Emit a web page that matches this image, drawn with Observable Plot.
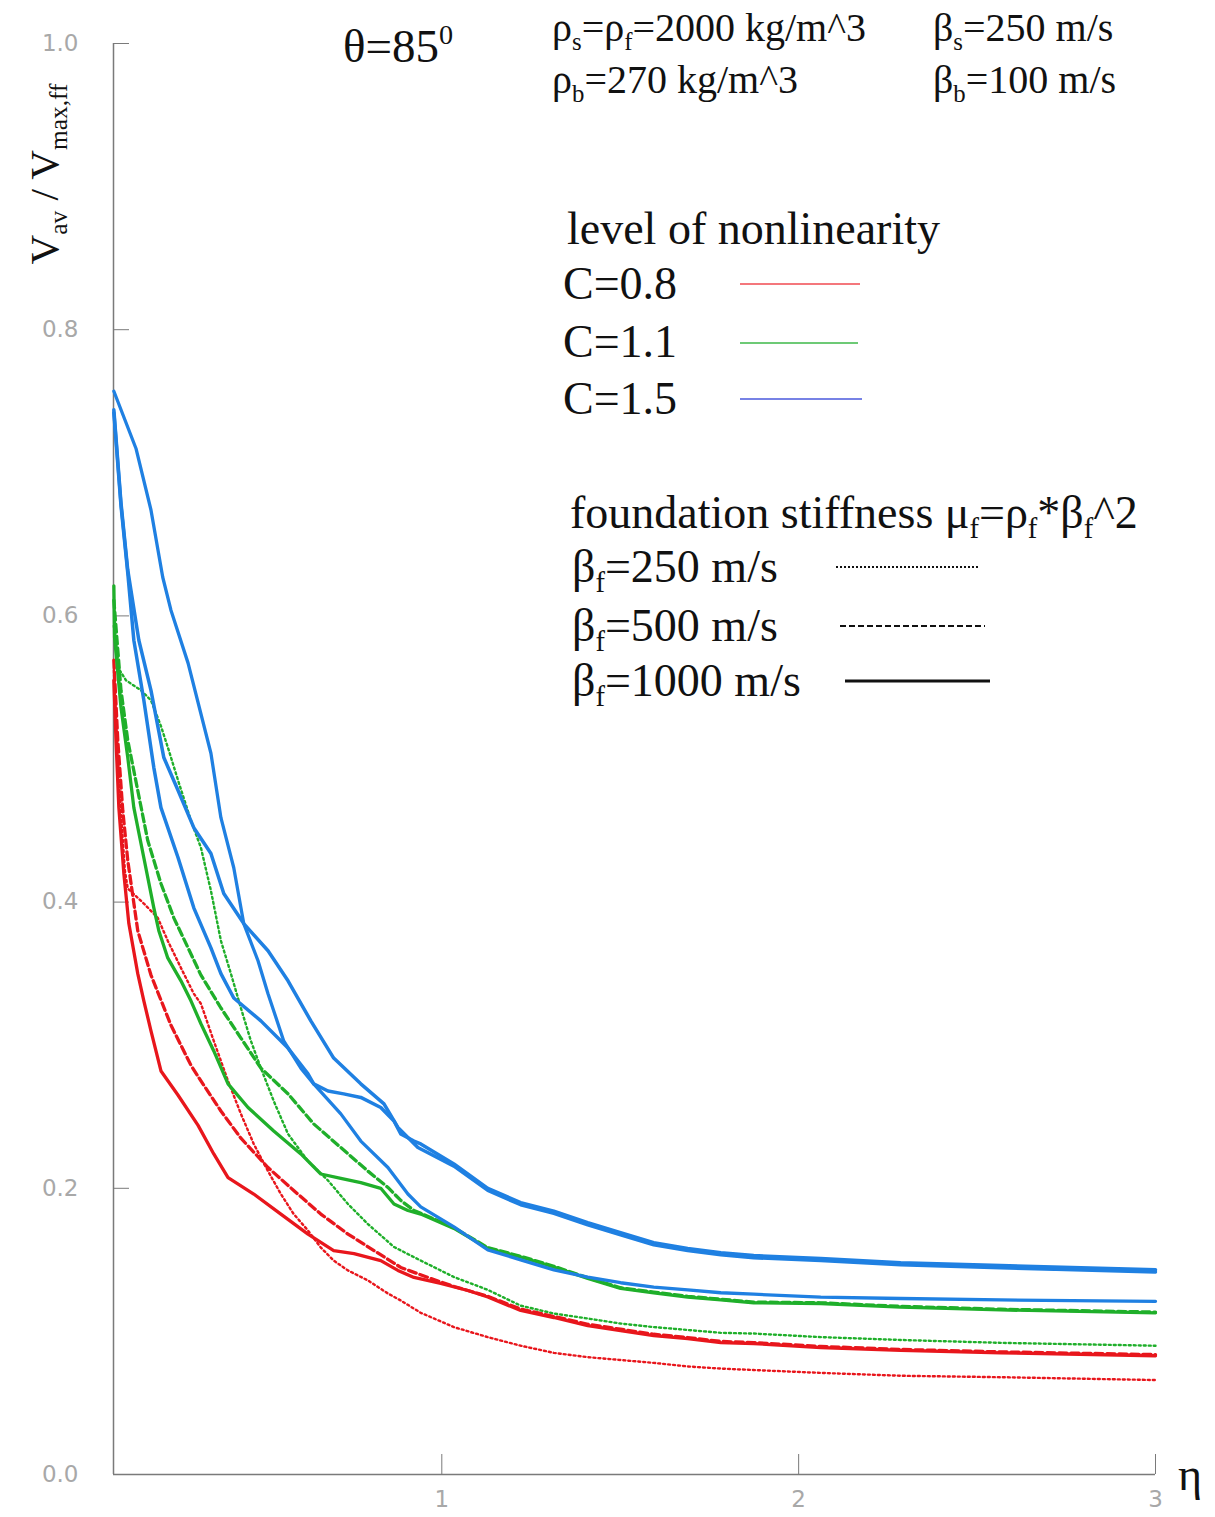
<!DOCTYPE html>
<html>
<head>
<meta charset="utf-8">
<script src="https://cdn.jsdelivr.net/npm/d3@7"></script>
<script src="https://cdn.jsdelivr.net/npm/@observablehq/plot@0.6"></script>
<style>
  html, body { margin: 0; padding: 0; background: #fff; overflow: hidden; }
  #wrap { position: relative; width: 1215px; height: 1517px; }
  #wrap svg.plot { display: block; }
  #overlay { position: absolute; left: 0; top: 0; pointer-events: none; }
</style>
</head>
<body>
<div id="wrap"></div>
<script>
// ---- data (η, V_av / V_max,ff) ----
const xTicks = [1, 2, 3];
const yTicks = [0, 0.2, 0.4, 0.6, 0.8, 1.0];

// C = 0.8 (red)
const red250 = [[0.081,0.562],[0.095,0.485],[0.112,0.422],[0.120,0.4095],[0.165,0.399],[0.204,0.389],[0.232,0.373],[0.269,0.354],[0.305,0.336],[0.325,0.329],[0.361,0.303],[0.401,0.275],[0.437,0.252],[0.473,0.231],[0.513,0.212],[0.549,0.196],[0.585,0.182],[0.625,0.1705],[0.661,0.1586],[0.697,0.1495],[0.737,0.1426],[0.793,0.1356],[0.849,0.1265],[0.885,0.1216],[0.941,0.113],[1.034,0.103],[1.129,0.096],[1.221,0.090],[1.314,0.085],[1.409,0.082],[1.501,0.080],[1.594,0.078],[1.689,0.0755],[1.782,0.074],[1.874,0.073],[2.062,0.071],[2.286,0.069],[2.566,0.068],[3.0,0.066]];
const red500 = [[0.081,0.569],[0.092,0.513],[0.106,0.464],[0.120,0.429],[0.148,0.380],[0.185,0.349],[0.241,0.314],[0.297,0.286],[0.325,0.275],[0.381,0.254],[0.437,0.235],[0.513,0.2145],[0.585,0.1985],[0.661,0.182],[0.737,0.168],[0.810,0.1565],[0.885,0.1447],[0.961,0.1377],[1.034,0.1314],[1.129,0.1245],[1.221,0.1156],[1.314,0.1105],[1.409,0.105],[1.501,0.1015],[1.594,0.098],[1.689,0.0957],[1.782,0.093],[1.874,0.0922],[2.062,0.0895],[2.286,0.0874],[2.566,0.0857],[3.0,0.0838]];
const red1000 = [[0.081,0.555],[0.087,0.513],[0.095,0.466],[0.109,0.420],[0.123,0.385],[0.148,0.350],[0.165,0.331],[0.185,0.310],[0.213,0.282],[0.261,0.265],[0.317,0.244],[0.361,0.224],[0.401,0.2075],[0.473,0.196],[0.549,0.182],[0.625,0.168],[0.697,0.1565],[0.754,0.1544],[0.829,0.1495],[0.877,0.1426],[0.922,0.1377],[0.997,0.1335],[1.073,0.1286],[1.129,0.124],[1.221,0.1146],[1.314,0.1097],[1.409,0.1041],[1.501,0.1006],[1.594,0.0971],[1.689,0.095],[1.782,0.0922],[1.874,0.0915],[2.062,0.0887],[2.286,0.0867],[2.566,0.085],[3.0,0.083]];

// C = 1.1 (green)
const green250 = [[0.081,0.593],[0.095,0.563],[0.115,0.555],[0.157,0.548],[0.185,0.541],[0.213,0.523],[0.235,0.506],[0.261,0.485],[0.297,0.457],[0.325,0.438],[0.353,0.408],[0.381,0.373],[0.409,0.350],[0.437,0.326],[0.465,0.303],[0.493,0.284],[0.529,0.261],[0.569,0.238],[0.625,0.219],[0.681,0.2055],[0.737,0.189],[0.793,0.175],[0.866,0.159],[0.941,0.1495],[1.034,0.138],[1.129,0.129],[1.221,0.118],[1.314,0.1125],[1.409,0.109],[1.501,0.1055],[1.594,0.103],[1.689,0.101],[1.782,0.099],[1.874,0.0985],[2.062,0.096],[2.286,0.094],[2.566,0.092],[3.0,0.090]];
const green500 = [[0.081,0.611],[0.101,0.548],[0.120,0.513],[0.148,0.478],[0.176,0.443],[0.213,0.413],[0.249,0.389],[0.289,0.368],[0.325,0.349],[0.381,0.326],[0.437,0.305],[0.493,0.284],[0.569,0.266],[0.641,0.245],[0.717,0.2285],[0.793,0.212],[0.849,0.2006],[0.885,0.1915],[0.922,0.1845],[0.941,0.1825],[1.034,0.1725],[1.129,0.1585],[1.221,0.1525],[1.314,0.1455],[1.409,0.1375],[1.501,0.1305],[1.594,0.1275],[1.689,0.1245],[1.782,0.1225],[1.874,0.1205],[2.062,0.12],[2.286,0.1175],[2.566,0.1155],[3.0,0.1135]];
const green1000 = [[0.081,0.621],[0.083,0.585],[0.101,0.536],[0.120,0.501],[0.137,0.466],[0.165,0.431],[0.193,0.396],[0.207,0.380],[0.232,0.361],[0.269,0.345],[0.297,0.331],[0.325,0.315],[0.361,0.296],[0.401,0.273],[0.457,0.2565],[0.529,0.240],[0.605,0.224],[0.661,0.210],[0.717,0.207],[0.773,0.204],[0.829,0.200],[0.866,0.189],[0.905,0.1845],[0.941,0.182],[1.034,0.172],[1.129,0.158],[1.221,0.152],[1.314,0.145],[1.409,0.137],[1.501,0.130],[1.594,0.127],[1.689,0.124],[1.782,0.122],[1.874,0.120],[2.062,0.1195],[2.286,0.117],[2.566,0.115],[3.0,0.113]];

// C = 1.5 (blue) – all three drawn solid in the original
const blue250 = [[0.081,0.757],[0.143,0.717],[0.185,0.674],[0.218,0.627],[0.241,0.604],[0.289,0.567],[0.353,0.504],[0.381,0.459],[0.417,0.424],[0.445,0.385],[0.485,0.359],[0.513,0.336],[0.557,0.303],[0.605,0.284],[0.641,0.273],[0.717,0.252],[0.773,0.233],[0.849,0.2145],[0.905,0.196],[0.941,0.187],[1.034,0.173],[1.129,0.157],[1.221,0.150],[1.314,0.143],[1.409,0.138],[1.501,0.134],[1.594,0.131],[1.689,0.129],[1.782,0.127],[1.874,0.126],[2.062,0.124],[2.286,0.123],[2.566,0.122],[3.0,0.121]];
const blue500 = [[0.081,0.744],[0.101,0.679],[0.120,0.632],[0.151,0.583],[0.185,0.548],[0.221,0.501],[0.261,0.478],[0.305,0.452],[0.353,0.434],[0.389,0.406],[0.445,0.385],[0.513,0.366],[0.569,0.345],[0.633,0.317],[0.697,0.291],[0.773,0.273],[0.838,0.259],[0.877,0.2425],[0.933,0.2285],[0.941,0.2275],[1.034,0.2155],[1.129,0.1985],[1.221,0.1885],[1.314,0.1825],[1.409,0.1745],[1.501,0.1675],[1.594,0.1605],[1.689,0.1565],[1.782,0.1535],[1.874,0.1515],[2.062,0.1495],[2.286,0.1465],[2.566,0.1445],[3.0,0.1415]];
const blue1000 = [[0.081,0.742],[0.101,0.677],[0.120,0.630],[0.137,0.583],[0.165,0.541],[0.193,0.494],[0.213,0.466],[0.261,0.431],[0.305,0.396],[0.353,0.368],[0.381,0.350],[0.417,0.333],[0.493,0.317],[0.569,0.298],[0.625,0.280],[0.641,0.273],[0.681,0.268],[0.725,0.266],[0.773,0.2635],[0.829,0.2565],[0.866,0.247],[0.885,0.238],[0.922,0.233],[0.941,0.231],[1.034,0.217],[1.129,0.200],[1.221,0.190],[1.314,0.184],[1.409,0.176],[1.501,0.169],[1.594,0.162],[1.689,0.158],[1.782,0.155],[1.874,0.153],[2.062,0.151],[2.286,0.148],[2.566,0.146],[3.0,0.143]];

const RED = "#e8161c", GREEN = "#1faf2a", BLUE = "#1f80e2";
const series = [
  {key: "red250",    data: red250,    stroke: RED,   width: 2.4, dash: "2,3"},
  {key: "red500",    data: red500,    stroke: RED,   width: 3.3, dash: "8,4"},
  {key: "red1000",   data: red1000,   stroke: RED,   width: 3.3, dash: null},
  {key: "green250",  data: green250,  stroke: GREEN, width: 2.4, dash: "2,3"},
  {key: "green500",  data: green500,  stroke: GREEN, width: 3.3, dash: "8,4"},
  {key: "green1000", data: green1000, stroke: GREEN, width: 3.3, dash: null},
  {key: "blue250",   data: blue250,   stroke: BLUE,  width: 3.3, dash: null},
  {key: "blue500",   data: blue500,   stroke: BLUE,  width: 3.5, dash: null},
  {key: "blue1000",  data: blue1000,  stroke: BLUE,  width: 3.5, dash: null}
];
const rows = series.flatMap(s => s.data.map(([eta, v]) => ({eta, v, key: s.key})));

const AX = "#7a7a7a";
const chart = Plot.plot({
  width: 1215, height: 1517,
  marginLeft: 113, marginRight: 60, marginTop: 43, marginBottom: 43,
  x: {domain: [0.08, 3]},
  y: {domain: [0, 1]},
  style: {background: "#fff", fontFamily: "DejaVu Sans"},
  marks: [
    Plot.ruleX([0.08], {stroke: AX, strokeWidth: 1.5}),
    Plot.ruleY([0], {stroke: AX, strokeWidth: 1.5}),
    Plot.axisY({ticks: yTicks, tickSize: -16, tickFormat: () => "", stroke: AX, label: null}),
    Plot.axisY({ticks: yTicks, tickSize: 0, tickPadding: 35, tickFormat: d3.format(".1f"), fill: "#a8a8a8", fontSize: 23, label: null}),
    Plot.axisX({ticks: xTicks, tickSize: -20, tickFormat: () => "", stroke: AX, label: null}),
    Plot.axisX({ticks: xTicks, tickSize: 0, tickPadding: 16, tickFormat: d3.format("d"), fill: "#a8a8a8", fontSize: 23, label: null}),
    ...series.map(s => Plot.line(rows.filter(r => r.key === s.key), {
      x: "eta", y: "v", stroke: s.stroke, strokeWidth: s.width,
      strokeDasharray: s.dash, strokeLinejoin: "round"
    }))
  ]
});
chart.classList.add("plot");
document.getElementById("wrap").appendChild(chart);

// ---- annotations & legend overlay ----
const NS = "http://www.w3.org/2000/svg";
const ov = document.createElementNS(NS, "svg");
ov.setAttribute("id", "overlay");
ov.setAttribute("width", 1215); ov.setAttribute("height", 1517);
ov.setAttribute("font-family", "Liberation Serif, Times New Roman, serif");
document.getElementById("wrap").appendChild(ov);

function rich(x, y, size, parts, opts = {}) {
  const t = document.createElementNS(NS, "text");
  t.setAttribute("x", x); t.setAttribute("y", y);
  t.setAttribute("font-size", size); t.setAttribute("fill", "#111");
  if (opts.anchor) t.setAttribute("text-anchor", opts.anchor);
  if (opts.transform) t.setAttribute("transform", opts.transform);
  let off = 0;
  for (const p of parts) {
    const [txt, kind] = Array.isArray(p) ? p : [p, "n"];
    const s = document.createElementNS(NS, "tspan");
    let target = 0, fs = size;
    if (kind === "sub") { target = size * 0.22; fs = size * 0.62; }
    if (kind === "sup") { target = -size * 0.38; fs = size * 0.6; }
    s.setAttribute("dy", target - off); off = target;
    s.setAttribute("font-size", fs);
    s.textContent = txt;
    t.appendChild(s);
  }
  ov.appendChild(t);
}
function seg(x1, x2, y, stroke, w, dash) {
  const l = document.createElementNS(NS, "line");
  l.setAttribute("x1", x1); l.setAttribute("x2", x2);
  l.setAttribute("y1", y); l.setAttribute("y2", y);
  l.setAttribute("stroke", stroke); l.setAttribute("stroke-width", w);
  if (dash) l.setAttribute("stroke-dasharray", dash);
  ov.appendChild(l);
}

rich(343, 62, 47, ["θ=85", ["0", "sup"]]);
rich(552, 41, 40, ["ρ", ["s", "sub"], "=ρ", ["f", "sub"], "=2000 kg/m^3"]);
rich(552, 93, 40, ["ρ", ["b", "sub"], "=270 kg/m^3"]);
rich(933, 41, 40, ["β", ["s", "sub"], "=250 m/s"]);
rich(933, 93, 40, ["β", ["b", "sub"], "=100 m/s"]);

rich(567, 244, 46, ["level of nonlinearity"]);
rich(563, 299, 46, ["C=0.8"]); seg(740, 860, 284, "#f04a50", 1.4);
rich(563, 357, 46, ["C=1.1"]); seg(740, 858, 343, "#3cb848", 1.4);
rich(563, 414, 46, ["C=1.5"]); seg(740, 862, 399, "#4a58dc", 1.4);

rich(570, 528, 46, ["foundation stiffness μ", ["f", "sub"], "=ρ", ["f", "sub"], "*β", ["f", "sub"], "^2"]);
rich(572, 582, 46, ["β", ["f", "sub"], "=250 m/s"]);  seg(836, 980, 567, "#111", 2, "2,2");
rich(572, 641, 46, ["β", ["f", "sub"], "=500 m/s"]);  seg(840, 985, 626, "#111", 2.2, "6,3");
rich(572, 696, 46, ["β", ["f", "sub"], "=1000 m/s"]); seg(845, 990, 681, "#111", 3);

rich(0, 0, 41, ["V", ["av", "sub"], " / V", ["max,ff", "sub"]], {anchor: "middle", transform: "translate(58,174) rotate(-90)"});
rich(1190, 1490, 46, ["η"], {anchor: "middle"});
</script>
</body>
</html>
